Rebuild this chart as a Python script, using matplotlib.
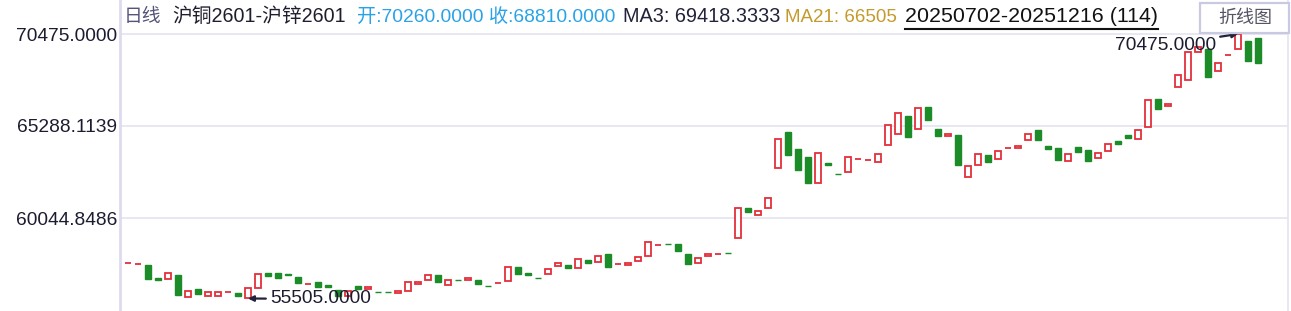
import matplotlib
matplotlib.use("Agg")
import matplotlib.pyplot as plt
from matplotlib.patches import Rectangle
from matplotlib.lines import Line2D

plt.rcParams['font.family'] = ['Liberation Sans', 'Noto Sans CJK SC', 'DejaVu Sans']

# ---- data ----
opens = [57500, 57440, 57400, 56665, 56590, 56835, 55590, 56025, 55630, 55630,
         55855, 55800, 55505, 56080, 56950, 56950, 56890, 56705, 56325, 56440,
         56270, 55985, 55620, 56210, 56060, 55880, 55880, 55835, 55945, 56310,
         56535, 56835, 56250, 56545, 56535, 56550, 56200, 56365, 56480, 57285,
         56950, 56655, 56875, 57325, 57400, 57215, 57685, 57555, 58025, 57445,
         57420, 57600, 57895, 58515, 58575, 58590, 58025, 57495, 57895, 58005,
         58070, 58910, 60625, 60215, 60610, 62875, 64930, 63965, 63515, 62025,
         63175, 62540, 62645, 63385, 63325, 63215, 64175, 64800, 65835, 65080,
         66345, 65100, 64720, 64760, 62365, 63045, 63625, 63385, 64005, 64005,
         64460, 65040, 64135, 64025, 63270, 64080, 63910, 63440, 63835, 64420,
         64760, 64515, 65230, 66795, 66415, 67460, 67855, 69440, 69610, 68365,
         69285, 69625, 70080, 70260]
closes = [57500, 57440, 56625, 56570, 56930, 55720, 55910, 55775, 55890, 55855,
          55855, 55665, 56080, 56890, 56795, 56680, 56855, 56400, 56325, 56170,
          56170, 55620, 55955, 56060, 56155, 55860, 55860, 55930, 56420, 56420,
          56815, 56455, 56535, 56530, 56650, 56340, 56190, 56365, 57270, 56910,
          56850, 56645, 57155, 57495, 57250, 57725, 57530, 57895, 57305, 57445,
          57515, 57835, 58685, 58515, 58565, 58210, 57475, 57780, 58005, 58005,
          58060, 60610, 60415, 60440, 61175, 64515, 63645, 62795, 62060, 63725,
          63075, 62530, 63495, 63385, 63325, 63665, 65305, 65985, 64660, 66270,
          65625, 64720, 64815, 63075, 62985, 63665, 63245, 63835, 64005, 64120,
          64800, 64490, 63985, 63360, 63665, 63815, 63305, 63725, 64230, 64265,
          64605, 65040, 66740, 66245, 66515, 68155, 69475, 69720, 68060, 68815,
          69285, 70475, 68970, 68810]
y_ticks = [70475.0, 65288.1139, 60044.8486]
y_tick_labels = ["70475.0000", "65288.1139", "60044.8486"]
max_value = 70475.0
max_index = 111
min_value = 55505.0
min_index = 12

header_items = [
    ("日线", "#55557a", 13.5),
    ("沪铜2601-沪锌2601", "#1e1e2e", 14.2),
    ("开:70260.0000 收:68810.0000", "#2aa3e6", 13.9),
    ("MA3: 69418.3333", "#22223a", 14.3),
    ("MA21: 66505", "#c49a2c", 13.5),
]
header_x = [124, 172, 357, 623, 785]
date_range = "20250702-20251216 (114)"
button_label = "折线图"

# ---- figure ----
W, H = 1291, 311
fig = plt.figure(figsize=(W / 100, H / 100), dpi=100)
fig.patch.set_facecolor("white")
ax = fig.add_axes([120 / W, 0, 1168 / W, 1])

RED = "#e3303b"
GREEN = "#1b8c28"

n = len(opens)
for i in range(n):
    o, c = opens[i], closes[i]
    lo, hi = min(o, c), max(o, c)
    h = max(hi - lo, 20)
    if c >= o:
        ax.bar(i, h, bottom=lo, width=0.64, facecolor="white",
               edgecolor=RED, linewidth=1.3, zorder=3)
    else:
        ax.bar(i, h, bottom=lo, width=0.64, facecolor=GREEN,
               edgecolor=GREEN, linewidth=1.0, zorder=3)

px = 56.6
ax.set_xlim(-0.8, 116.0)
ax.set_ylim(70475 - 277 * px, 70475 + 34 * px)

ax.set_yticks(y_ticks)
ax.set_yticklabels(y_tick_labels)
ax.tick_params(axis="y", length=0, pad=2, labelsize=13.8, labelcolor="#1c1c30")
ax.set_xticks([])
ax.grid(axis="y", color="#e6e6f2", linewidth=1.3, zorder=0)
for s in ["top", "bottom"]:
    ax.spines[s].set_visible(False)
ax.spines["left"].set_color("#dcdcee")
ax.spines["left"].set_linewidth(2)
ax.spines["right"].set_color("#e6e6f2")
ax.spines["right"].set_linewidth(1.3)

# annotations
ax.annotate(f"{min_value:.4f}", xy=(min_index, min_value),
            xytext=(min_index + 2.2, min_value - 0.5 * px), ha="left", va="center",
            fontsize=13.8, color="#1c1c30",
            arrowprops=dict(arrowstyle="-|>", color="#22223a", lw=1.6,
                            shrinkA=1, shrinkB=0, mutation_scale=8))
ax.annotate(f"{max_value:.4f}", xy=(max_index, max_value),
            xytext=(max_index - 2.2, max_value - 11 * px), ha="right", va="center",
            fontsize=13.8, color="#1c1c30",
            arrowprops=dict(arrowstyle="-|>", color="#22223a", lw=1.6,
                            shrinkA=1, shrinkB=0, mutation_scale=8))

# header texts
hy = 1 - 17 / H
for (txt, col, fs), x in zip(header_items, header_x):
    fig.text(x / W, hy, txt, color=col, fontsize=fs, ha="left", va="center")
fig.text(905 / W, hy, date_range, color="#111111", fontsize=15.4,
         ha="left", va="center")
fig.add_artist(Line2D([905 / W, 1158 / W], [1 - 29 / H, 1 - 29 / H],
                      color="#111111", linewidth=1.5))

# button
fig.add_artist(Rectangle((1200 / W, 1 - 33 / H), 89 / W, 30 / H,
                         facecolor="white", edgecolor="#c9c9e2", linewidth=1.6))
fig.text(1245 / W, 1 - 18 / H, button_label, color="#555566", fontsize=13,
         ha="center", va="center")

fig.savefig("out.png", dpi=100)
